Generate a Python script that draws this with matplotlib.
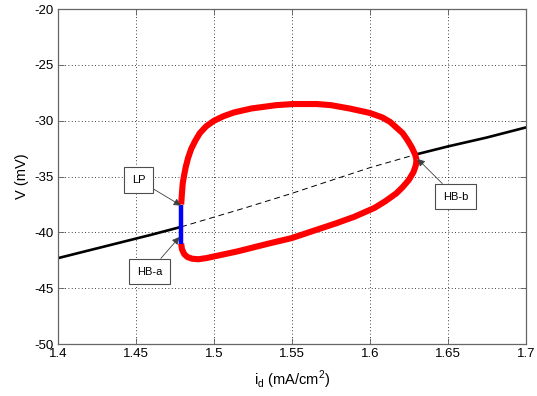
import numpy as np
import matplotlib
matplotlib.use("Agg")
import matplotlib.pyplot as plt

plt.rcParams["font.family"] = ["Liberation Sans", "DejaVu Sans"]
plt.rcParams["axes.unicode_minus"] = False

# ── data ─────────────────────────────────────────────────────────────────────
# stable equilibria (left and right of the Hopf points)
eq_left_x = [1.400, 1.420, 1.440, 1.460, 1.479]
eq_left_v = [-42.3, -41.6, -40.9, -40.2, -39.5]
eq_right_x = [1.630, 1.650, 1.675, 1.700]
eq_right_v = [-33.0, -32.3, -31.5, -30.6]
# unstable equilibria between HB-a and HB-b
eq_unst_x = [1.479, 1.520, 1.550, 1.576, 1.600, 1.630]
eq_unst_v = [-39.5, -37.8, -36.5, -35.3, -34.2, -33.0]

# limit cycle envelope (max / min of V)
cyc_up_x = [1.479, 1.4795, 1.480, 1.481, 1.482, 1.4835, 1.4855, 1.488, 1.491, 1.495,
            1.500, 1.506, 1.513, 1.524, 1.540, 1.551, 1.566, 1.575, 1.587, 1.600,
            1.608, 1.613, 1.617, 1.621, 1.624, 1.627, 1.629, 1.630]
cyc_up_v = [-37.5, -36.5, -35.6, -34.8, -34.1, -33.3, -32.5, -31.8, -31.1, -30.5,
            -30.0, -29.6, -29.25, -28.9, -28.6, -28.5, -28.5, -28.6, -28.9, -29.3,
            -29.7, -30.1, -30.6, -31.1, -31.7, -32.4, -33.0, -33.5]
cyc_lo_x = [1.630, 1.6295, 1.628, 1.625, 1.621, 1.617, 1.610, 1.603, 1.590, 1.578,
            1.565, 1.550, 1.535, 1.515, 1.500, 1.495, 1.490, 1.486, 1.483, 1.481,
            1.4795, 1.479]
cyc_lo_v = [-33.5, -34.0, -34.6, -35.3, -35.95, -36.5, -37.2, -37.8, -38.6, -39.2,
            -39.8, -40.5, -41.0, -41.7, -42.15, -42.3, -42.4, -42.35, -42.2, -41.95,
            -41.5, -41.0]
# unstable cycle segment near the fold (LP -> HB-a)
blue_x = [1.479, 1.479]
blue_v = [-37.5, -41.0]

labels = ["LP", "HB-a", "HB-b"]
label_pts = [(1.479, -37.6), (1.478, -40.4), (1.6305, -33.4)]
label_txt = [(1.4516, -35.3), (1.4586, -43.5), (1.655, -36.8)]

xticks = [1.4, 1.45, 1.5, 1.55, 1.6, 1.65, 1.7]
yticks = [-50, -45, -40, -35, -30, -25, -20]

# ── plot ─────────────────────────────────────────────────────────────────────
fig = plt.figure(figsize=(5.37, 3.96), dpi=100)
ax = fig.add_axes([0.108, 0.131, 0.871, 0.846])

for cx, cv in [(cyc_up_x, cyc_up_v), (cyc_lo_x, cyc_lo_v)]:
    ax.plot(cx, cv, color="red", lw=4.4, solid_capstyle="butt",
            solid_joinstyle="round", zorder=3)
ax.plot(blue_x, blue_v, color="blue", lw=3.2, solid_capstyle="butt", zorder=4)
ax.plot(eq_left_x, eq_left_v, color="black", lw=1.9, zorder=2)
ax.plot(eq_right_x, eq_right_v, color="black", lw=1.9, zorder=2)
ax.plot(eq_unst_x, eq_unst_v, color="black", lw=0.7, dashes=(6, 4), zorder=2)

for lab, pt, txt in zip(labels, label_pts, label_txt):
    ax.annotate(lab, xy=pt, xytext=txt, fontsize=8, ha="center", va="center",
                bbox=dict(boxstyle="square,pad=0.7", fc="white", ec="0.3", lw=0.8),
                arrowprops=dict(arrowstyle="-|>", color="0.25", lw=0.6,
                                mutation_scale=11, shrinkA=0, shrinkB=0),
                zorder=5)

ax.set_xlim(1.4, 1.7)
ax.set_ylim(-50, -20)
ax.set_xticks(xticks)
ax.set_yticks(yticks)
ax.set_xticklabels([f"{t:g}" for t in xticks])
ax.set_yticklabels([f"{t:g}" for t in yticks])
ax.tick_params(direction="in", length=4, width=0.6, top=True, right=True,
               labelsize=9.5, colors="0.35", labelcolor="black", pad=3)
ax.grid(True, color="black", linestyle=(0, (1, 3)), lw=0.6)
for s in ax.spines.values():
    s.set_color("0.4")
    s.set_linewidth(0.9)

ax.set_xlabel(r"i$_\mathregular{d}$ (mA/cm$^\mathregular{2}$)", fontsize=10.5, labelpad=6)
ax.set_ylabel("V (mV)", fontsize=10.5, labelpad=4)

fig.savefig("out.png", dpi=100)
